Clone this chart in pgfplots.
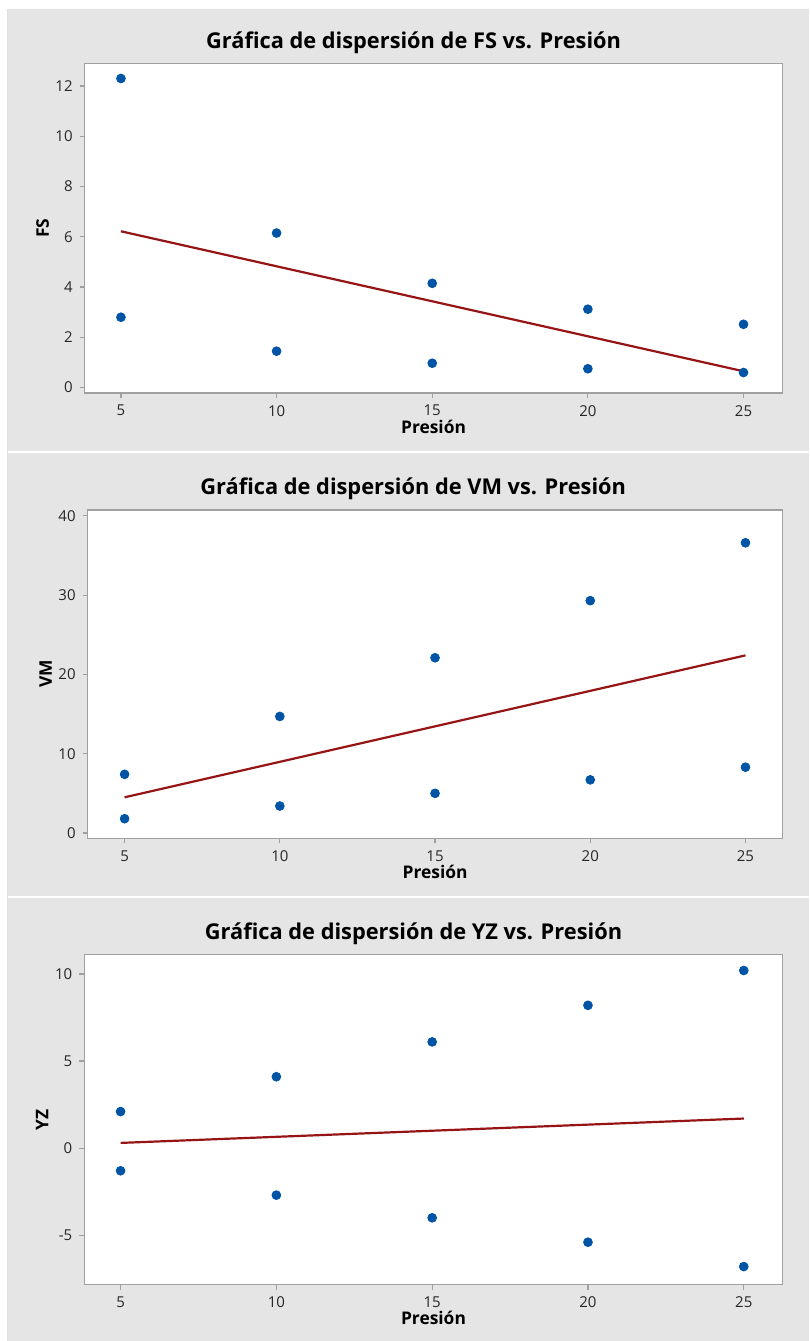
\documentclass[border=0pt]{standalone}
\usepackage{fontspec}
\setmainfont{Open Sans}
\usepackage{pgfplots}
\pgfplotsset{compat=1.18}
\definecolor{panelgray}{RGB}{229,229,229}
\definecolor{axgray}{RGB}{160,160,160}
\definecolor{ptblue}{RGB}{0,84,166}
\definecolor{fitred}{RGB}{150,20,20}
\pgfplotsset{
  mypanel/.style={
    anchor=south west,
    scale only axis,
    axis background/.style={fill=white},
    axis line style={axgray, line width=0.75pt},
    tick style={axgray, line width=0.6pt},
    tick align=outside,
    major tick length=2.5pt,
    xtick pos=bottom, ytick pos=left,
    xmin=3.835, xmax=26.25,
    xtick={5,10,15,20,25},
    /pgf/number format/assume math mode=true,
    ticklabel style={font=\fontsize{7.5}{8.5}\selectfont, text=black!85},
    title style={font=\fontsize{10.9}{13}\selectfont\bfseries, at={(0.5,1)}, anchor=base, yshift=1.8pt, xshift=-10pt},
    xlabel={Presión},
    xlabel style={font=\fontsize{8.7}{10}\selectfont\bfseries, at={(axis description cs:0.5,0)}, anchor=base, yshift=-20pt},
    ylabel style={font=\fontsize{8.7}{10}\selectfont\bfseries, at={(axis description cs:0,0.5)}, anchor=center, yshift=21pt},
    clip=false,
  },
  pts/.style={only marks, mark=*, mark size=2.2pt, ptblue, mark options={fill=ptblue, draw=ptblue}},
  fit/.style={fitred, line width=1.1pt, no marks},
}
\begin{document}
\begin{tikzpicture}
% page and panel backgrounds
\fill[white] (0pt,0pt) rectangle (404.5pt,670.5pt);
\fill[panelgray] (4pt,445pt) rectangle (404.5pt,665.5pt);
\fill[panelgray] (4pt,222.5pt) rectangle (404.5pt,444pt);
\fill[panelgray] (4pt,0pt) rectangle (404.5pt,221.5pt);
\draw[black!12, line width=0.5pt] (4pt,0pt) -- (4pt,665.5pt) -- (404.5pt,665.5pt);

% Panel 1: FS
\begin{axis}[mypanel, at={(42.35pt,473.85pt)}, width=349pt, height=164.8pt,
  ymin=-0.22, ymax=12.89, ytick={0,2,4,6,8,10,12},
  title={Gráfica de dispersión de FS vs. Presión}, ylabel={FS}]
\addplot[pts] coordinates {(5,12.3) (5,2.8) (10,6.15) (10,1.45) (15,4.15) (15,0.97) (20,3.12) (20,0.75) (25,2.52) (25,0.6)};
\addplot[fit] coordinates {(5,6.22) (25,0.65)};
\end{axis}

% Panel 2: VM
\begin{axis}[mypanel, at={(43.85pt,251.15pt)}, width=347.65pt, height=164.35pt,
  xmin=3.81, xmax=26.2,
  ymin=-0.68, ymax=40.76, ytick={0,10,20,30,40},
  title={Gráfica de dispersión de VM vs. Presión}, ylabel={VM},
  title style={xshift=-1pt}]
\addplot[pts] coordinates {(5,7.4) (5,1.8) (10,14.7) (10,3.4) (15,22.1) (15,5.0) (20,29.3) (20,6.7) (25,36.6) (25,8.3)};
\addplot[fit] coordinates {(5,4.5) (25,22.4)};
\end{axis}

% Panel 3: YZ
\begin{axis}[mypanel, at={(42.15pt,28pt)}, width=349.35pt, height=165pt,
  ymin=-7.83, ymax=11.11, ytick={-5,0,5,10},
  title={Gráfica de dispersión de YZ vs. Presión}, ylabel={YZ}]
\addplot[pts] coordinates {(5,2.1) (5,-1.3) (10,4.1) (10,-2.7) (15,6.1) (15,-4.0) (20,8.2) (20,-5.4) (25,10.2) (25,-6.8)};
\addplot[fit] coordinates {(5,0.3) (25,1.7)};
\end{axis}
\end{tikzpicture}
\end{document}
